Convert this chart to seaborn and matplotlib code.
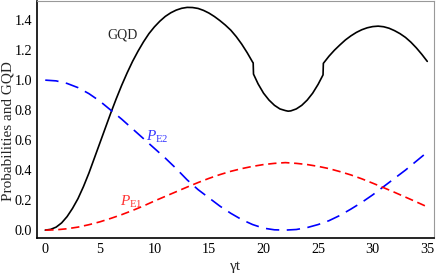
import matplotlib
matplotlib.use("Agg")
import matplotlib.pyplot as plt
from matplotlib.ticker import MultipleLocator, FormatStrFormatter
import seaborn as sns

# values
t = list(range(0, 36))

p_e2 = [1.0, 0.995, 0.978, 0.95, 0.91, 0.86, 0.80, 0.74, 0.675, 0.61,
        0.545, 0.48, 0.41, 0.335, 0.27, 0.215, 0.16, 0.112, 0.07, 0.037,
        0.013, 0.002, 0.0, 0.004, 0.017, 0.037, 0.063, 0.098, 0.14, 0.185,
        0.235, 0.29, 0.345, 0.40, 0.46, 0.52]

p_e1 = [0.0, 0.002, 0.009, 0.02, 0.036, 0.055, 0.078, 0.103, 0.131, 0.161,
        0.194, 0.225, 0.256, 0.287, 0.317, 0.345, 0.37, 0.392, 0.41, 0.425,
        0.437, 0.445, 0.45, 0.445, 0.437, 0.425, 0.41, 0.39, 0.368, 0.342,
        0.313, 0.283, 0.252, 0.22, 0.188, 0.155]

t_gqd = [0, 0.5, 1, 1.5, 2, 2.5, 3, 3.5, 4, 4.5, 5, 5.5, 6, 6.5, 7, 7.5, 8,
         8.5, 9, 9.5, 10, 10.5, 11, 11.5, 12, 12.5, 13, 13.5, 14, 14.5, 15,
         15.5, 16, 16.5, 17, 17.5, 18, 18.5, 19, 19.05,
         19.08, 19.5, 20, 20.5, 21, 21.5, 22, 22.25, 22.5, 23, 23.5, 24,
         24.5, 25, 25.45,
         25.48, 26, 26.5, 27, 27.5, 28, 28.5, 29, 29.5, 30, 30.5, 31, 31.5,
         32, 32.5, 33, 33.5, 34, 34.5, 35]
gqd = [0.0, 0.005, 0.02, 0.048, 0.09, 0.145, 0.21, 0.29, 0.38, 0.48, 0.58,
       0.68, 0.78, 0.875, 0.965, 1.048, 1.125, 1.193, 1.255, 1.31, 1.355,
       1.393, 1.425, 1.449, 1.467, 1.479, 1.485, 1.484, 1.478, 1.465, 1.447,
       1.424, 1.397, 1.367, 1.333, 1.29, 1.24, 1.183, 1.12, 1.115,
       1.04, 0.975, 0.913, 0.867, 0.832, 0.808, 0.797, 0.793, 0.795, 0.808,
       0.832, 0.867, 0.913, 0.972, 1.035,
       1.112, 1.16, 1.2, 1.235, 1.268, 1.295, 1.318, 1.336, 1.349, 1.357,
       1.36, 1.356, 1.346, 1.33, 1.31, 1.285, 1.253, 1.215, 1.172, 1.125]

sns.set_style("white")
plt.rcParams["font.family"] = ["Liberation Serif", "DejaVu Serif"]
plt.rcParams["mathtext.fontset"] = "custom"
plt.rcParams["mathtext.rm"] = "Liberation Serif"
plt.rcParams["mathtext.it"] = "Liberation Serif:italic"

fig = plt.figure(figsize=(4.36, 2.73), dpi=100)
ax = fig.add_axes([0.085, 0.128, 0.91, 0.868])

sns.lineplot(x=t_gqd, y=gqd, ax=ax, color="black", lw=1.2, sort=False,
             estimator=None)
sns.lineplot(x=t, y=p_e2, ax=ax, color="#0000ff", lw=1.2, sort=False,
             estimator=None).lines[-1].set_dashes([8, 4.5])
sns.lineplot(x=t, y=p_e1, ax=ax, color="#ff0000", lw=1.2, sort=False,
             estimator=None).lines[-1].set_dashes([5, 2.8])

ax.text(7.1, 1.30, "GQD", fontsize=10, ha="center", va="center")
ax.text(10.3, 0.62, r"$P_{\mathrm{E2}}$", fontsize=11, color="#3333ff",
        ha="center", va="center")
ax.text(7.9, 0.19, r"$P_{\mathrm{E1}}$", fontsize=11, color="#ff3333",
        ha="center", va="center")

ax.set_xlim(-0.75, 35.6)
ax.set_ylim(-0.053, 1.527)
ax.xaxis.set_major_locator(MultipleLocator(5))
ax.xaxis.set_minor_locator(MultipleLocator(1))
ax.yaxis.set_major_locator(MultipleLocator(0.2))
ax.yaxis.set_minor_locator(MultipleLocator(0.05))
ax.yaxis.set_major_formatter(FormatStrFormatter("%.1f"))
ax.tick_params(which="both", direction="in", top=False, right=False,
               labelsize=10.2, width=0.8, colors="black")
ax.tick_params(which="major", length=4)
ax.tick_params(which="minor", length=2)

for side in ["left", "bottom"]:
    ax.spines[side].set_color("black")
    ax.spines[side].set_linewidth(1.2)
for side in ["top", "right"]:
    ax.spines[side].set_color("#999999")
    ax.spines[side].set_linewidth(0.8)

ax.set_xlabel("γt", fontsize=11, labelpad=3)
ax.set_ylabel("Probabilities and GQD", fontsize=11)
ax.yaxis.set_label_coords(-0.056, 0.45)

fig.savefig("out.png", dpi=100)
